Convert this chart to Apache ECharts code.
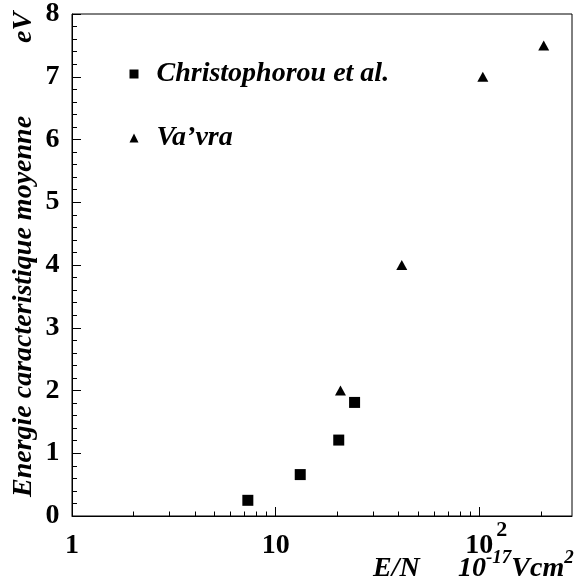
<!DOCTYPE html>
<html>
<head>
<meta charset="utf-8">
<script src="https://cdn.jsdelivr.net/npm/echarts@6/dist/echarts.min.js"></script>
<style>
html,body{margin:0;padding:0;background:#fff;}
#chart{width:582px;height:588px;}
</style>
</head>
<body>
<div id="chart"></div>
<script>
// ---- data ----
const christophorouX = [7.3, 13.2, 20.4, 24.4];
const christophorouY = [0.25, 0.66, 1.21, 1.81];
const vavraX = [20.8, 41.6, 104, 207];
const vavraY = [2.0, 4.0, 7.0, 7.5];
const seriesNames = ['Christophorou et al.', 'Va\u2019vra'];
const xMinorTicks = [2, 3, 4, 5, 6, 7, 8, 9, 20, 30, 40, 50, 60, 70, 80, 90, 200];
const yTitle = 'Energie caracteristique moyenne';
const yUnit = 'eV';

const FONT = 'Liberation Serif';
const TICK = '#000';
const chart = echarts.init(document.getElementById('chart'), null, {renderer: 'canvas'});

const zip = (xs, ys) => xs.map((x, i) => [x, ys[i]]);

const option = {
  backgroundColor: '#fff',
  animation: false,
  grid: {left: 72, right: 10, top: 13, bottom: 72, show: true, borderColor: '#000', borderWidth: 1, backgroundColor: 'transparent'},
  legend: {
    data: [
      {name: seriesNames[0], icon: 'rect'},
      {name: seriesNames[1], icon: 'triangle'}
    ],
    orient: 'vertical',
    left: 129.5, top: 60, padding: 0,
    itemWidth: 9, itemHeight: 9,
    itemGap: 36,
    selectedMode: false,
    textStyle: {fontFamily: FONT, fontWeight: 'bold', fontStyle: 'italic', fontSize: 28, color: '#000', padding: [0, 0, 0, 13]}
  },
  xAxis: {
    type: 'log', logBase: 10, min: 1, max: 285,
    axisLine: {show: true, lineStyle: {color: '#000', width: 1}},
    axisTick: {show: true, inside: true, length: 9, lineStyle: {color: TICK, width: 1}},
    splitLine: {show: false},
    axisLabel: {
      showMaxLabel: false,
      margin: 3.5,
      formatter: function (v) {
        const e = Math.round(Math.log10(v));
        if (e >= 2) return '{p| }{b|10}{s|' + e + '}';
        return '{b|' + Math.round(v) + '}';
      },
      rich: {
        b: {fontFamily: FONT, fontWeight: 'bold', fontSize: 28, color: '#000', lineHeight: 53},
        s: {fontFamily: FONT, fontWeight: 'bold', fontSize: 22, color: '#000', padding: [0, 0, 31, 3]},
        p: {width: 14}
      }
    }
  },
  yAxis: {
    type: 'value', min: 0, max: 8, interval: 1,
    axisLine: {show: true, lineStyle: {color: '#000', width: 1}},
    axisTick: {show: true, inside: true, length: 9, lineStyle: {color: TICK, width: 1}},
    minorTick: {show: true, splitNumber: 5, length: 5, lineStyle: {color: TICK, width: 1}},
    splitLine: {show: false},
    axisLabel: {margin: 12.5, fontFamily: FONT, fontWeight: 'bold', fontSize: 28, color: '#000'}
  },
  series: [
    {
      name: seriesNames[0], type: 'scatter', symbol: 'rect', symbolSize: 11,
      itemStyle: {color: '#000', opacity: 1},
      data: zip(christophorouX, christophorouY)
    },
    {
      name: seriesNames[1], type: 'scatter', symbol: 'triangle', symbolSize: [11, 10],
      itemStyle: {color: '#000', opacity: 1},
      data: zip(vavraX, vavraY)
    },
    {
      type: 'custom', coordinateSystem: 'cartesian2d', silent: true, clip: false, z: 3,
      data: xMinorTicks.map(v => [v, 0]),
      renderItem: function (params, api) {
        const p = api.coord([api.value(0), 0]);
        const x = Math.round(p[0]) + 0.5;
        return {type: 'line', shape: {x1: x, y1: p[1], x2: x, y2: p[1] - 4.5}, style: {stroke: TICK, lineWidth: 1}};
      }
    }
  ],
  graphic: [
    {
      type: 'text', x: 23.5, y: 497, rotation: Math.PI / 2,
      style: {text: yTitle, fontFamily: FONT, fontWeight: 'bold', fontStyle: 'italic', fontSize: 28, fill: '#000', textAlign: 'left', textVerticalAlign: 'middle'}
    },
    {
      type: 'text', x: 23.5, y: 43, rotation: Math.PI / 2,
      style: {text: yUnit, fontFamily: FONT, fontWeight: 'bold', fontStyle: 'italic', fontSize: 28, fill: '#000', textAlign: 'left', textVerticalAlign: 'middle'}
    },
    {
      type: 'text', x: 373, y: 568.5,
      style: {text: 'E/N', fontFamily: FONT, fontWeight: 'bold', fontStyle: 'italic', fontSize: 28, fill: '#000', textAlign: 'left', textVerticalAlign: 'middle'}
    },
    {
      type: 'text', x: 458, y: 568.5,
      style: {
        text: '{m|10}{s|-17}{m|Vcm}{s|2}',
        textAlign: 'left', textVerticalAlign: 'middle',
        rich: {
          m: {fontFamily: FONT, fontWeight: 'bold', fontStyle: 'italic', fontSize: 28, fill: '#000'},
          s: {fontFamily: FONT, fontWeight: 'bold', fontStyle: 'italic', fontSize: 19, fill: '#000', padding: [0, 0, 20, 0]}
        }
      }
    }
  ]
};
chart.setOption(option);
</script>
</body>
</html>
